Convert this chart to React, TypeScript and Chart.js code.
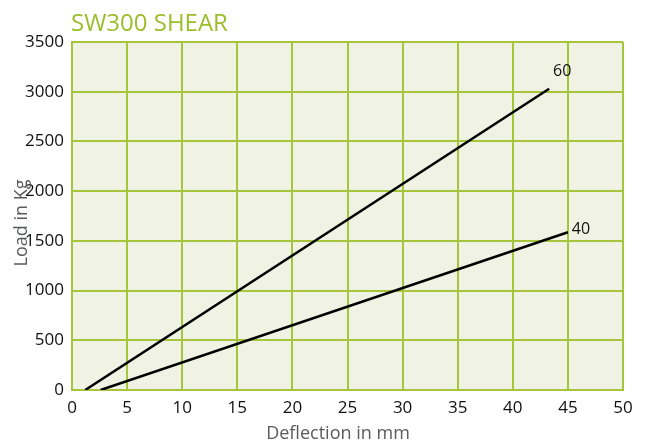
import React, { useEffect, useRef } from "react";
import { Chart, registerables } from "chart.js";

Chart.register(...registerables);

const chartTitle = "SW300 SHEAR";
const xTitle = "Deflection in mm";
const yTitle = "Load in Kg";

const series60Name = "60";
const series60X = [1.2, 43.3];
const series60Y = [0, 3030];

const series40Name = "40";
const series40X = [2.6, 45.0];
const series40Y = [0, 1586];

const xMin = 0, xMax = 50, xStep = 5;
const yMin = 0, yMax = 3500, yStep = 500;

const GREEN = "#a6c43c";
const TITLE_GREEN = "#9cbd2c";
const BG = "#f0f2e3";
const GREY = "#5a5b5d";
const FONT = "'Open Sans', 'Noto Sans', sans-serif";

const toPoints = (xs: number[], ys: number[]) => xs.map((x, i) => ({ x, y: ys[i] }));

const decorPlugin = {
  id: "decor",
  beforeDraw(chart: any) {
    const { ctx, chartArea } = chart;
    ctx.save();
    ctx.fillStyle = BG;
    ctx.fillRect(chartArea.left, chartArea.top, chartArea.right - chartArea.left, chartArea.bottom - chartArea.top);
    ctx.restore();
  },
  afterDraw(chart: any) {
    const { ctx } = chart;
    const xs = chart.scales.x;
    const ys = chart.scales.y;
    ctx.save();
    // title
    ctx.fillStyle = TITLE_GREEN;
    ctx.font = `24px ${FONT}`;
    ctx.textAlign = "left";
    ctx.textBaseline = "alphabetic";
    ctx.fillText(chartTitle, 71, 31);
    // x title
    ctx.fillStyle = GREY;
    ctx.font = `18px ${FONT}`;
    ctx.textAlign = "center";
    ctx.fillText(xTitle, 338, 439);
    // y title
    ctx.save();
    ctx.translate(27, 223);
    ctx.rotate(-Math.PI / 2);
    ctx.fillText(yTitle, 0, 0);
    ctx.restore();
    // series labels
    ctx.fillStyle = "#111";
    ctx.font = `16px ${FONT}`;
    ctx.textAlign = "center";
    ctx.textBaseline = "middle";
    const l60x = xs.getPixelForValue(series60X[series60X.length - 1]);
    const l60y = ys.getPixelForValue(series60Y[series60Y.length - 1]);
    ctx.fillText(series60Name, l60x + 13, l60y - 17);
    const l40x = xs.getPixelForValue(series40X[series40X.length - 1]);
    const l40y = ys.getPixelForValue(series40Y[series40Y.length - 1]);
    ctx.fillText(series40Name, l40x + 13, l40y - 3);
    ctx.restore();
  },
};

export default function App() {
  const ref = useRef<HTMLCanvasElement | null>(null);
  useEffect(() => {
    if (!ref.current) return;
    const chart = new Chart(ref.current, {
      type: "scatter",
      data: {
        datasets: [
          {
            label: series60Name,
            data: toPoints(series60X, series60Y),
            showLine: true,
            borderColor: "#000",
            borderWidth: 2.5,
            pointRadius: 0,
            fill: false,
          },
          {
            label: series40Name,
            data: toPoints(series40X, series40Y),
            showLine: true,
            borderColor: "#000",
            borderWidth: 2.5,
            pointRadius: 0,
            fill: false,
          },
        ],
      },
      options: {
        animation: false,
        responsive: true,
        maintainAspectRatio: false,
        layout: { padding: { top: 42, right: 26, left: 0, bottom: 0 } },
        plugins: { legend: { display: false }, tooltip: { enabled: false }, title: { display: false } },
        scales: {
          x: {
            type: "linear",
            min: xMin,
            max: xMax,
            ticks: { stepSize: xStep, color: "#111", font: { family: FONT, size: 17 }, padding: 8, maxRotation: 0, callback: (v: any) => String(v) },
            grid: { color: GREEN, lineWidth: 2, drawTicks: false },
            border: { display: true, color: GREEN, width: 2 },
            afterFit: (s: any) => { s.height = 51; },
          },
          y: {
            type: "linear",
            min: yMin,
            max: yMax,
            ticks: { stepSize: yStep, color: "#111", font: { family: FONT, size: 17 }, padding: 8, callback: (v: any) => String(v) },
            grid: { color: GREEN, lineWidth: 2, drawTicks: false },
            border: { display: true, color: GREEN, width: 2 },
            afterFit: (s: any) => { s.width = 72; },
          },
        },
      },
      plugins: [decorPlugin],
    });
    return () => chart.destroy();
  }, []);
  return (
    <div style={{ position: "absolute", left: 0, top: 0, width: 649, height: 441 }}>
      <canvas ref={ref} />
    </div>
  );
}
